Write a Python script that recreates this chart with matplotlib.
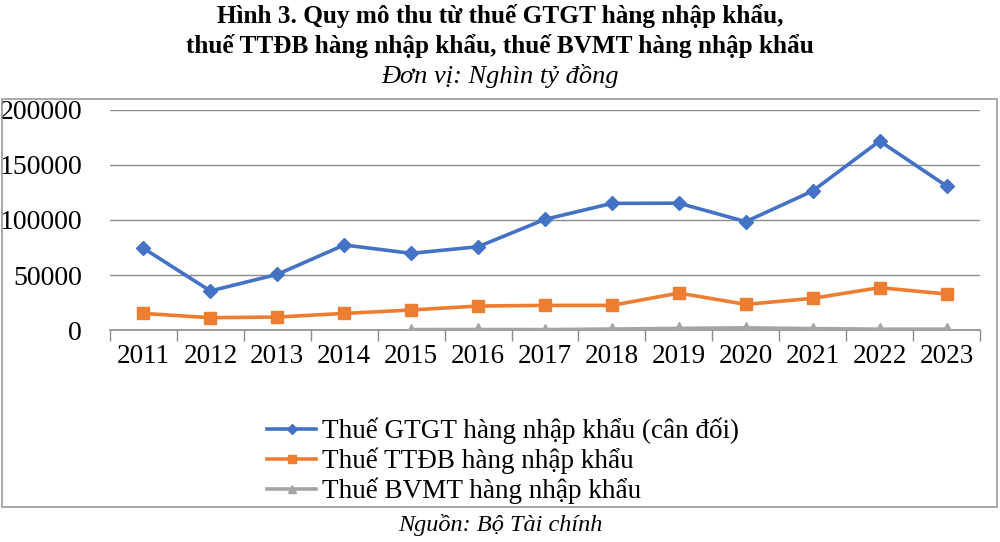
import matplotlib
matplotlib.use("Agg")
import matplotlib.pyplot as plt
from matplotlib.patches import Rectangle
from matplotlib.lines import Line2D

years = ["2011", "2012", "2013", "2014", "2015", "2016", "2017", "2018", "2019", "2020", "2021", "2022", "2023"]
gtgt = [74300, 35500, 50600, 77300, 69700, 75700, 100600, 115100, 115300, 98500, 126400, 171800, 130900]
ttdb = [15100, 11200, 11800, 15100, 18200, 21800, 22400, 22400, 33600, 23300, 28800, 38500, 32700]
bvmt_years = ["2015", "2016", "2017", "2018", "2019", "2020", "2021", "2022", "2023"]
bvmt = [400, 500, 400, 900, 1500, 2000, 1300, 800, 800]

labels = ["Thuế GTGT hàng nhập khẩu (cân đối)", "Thuế TTĐB hàng nhập khẩu", "Thuế BVMT hàng nhập khẩu"]
yticks = [0, 50000, 100000, 150000, 200000]

BLUE = "#4472C4"
ORANGE = "#ED7D31"
GRAY = "#A5A5A5"
SERIF = ["Liberation Serif", "DejaVu Serif"]

plt.rcParams["font.family"] = SERIF

fig = plt.figure(figsize=(10, 5.42), dpi=100)
ax = fig.add_axes([0.11, 0.3911, 0.87, 0.406])

x = list(range(len(years)))
xb = [years.index(y) for y in bvmt_years]

ax.plot(x, gtgt, color=BLUE, lw=2.6, marker="D", ms=7.5, zorder=4)
ax.plot(x, ttdb, color=ORANGE, lw=2.6, marker="s", ms=9, zorder=4)
ax.plot(xb, bvmt, color=GRAY, lw=2.6, marker="^", ms=9, zorder=4)

ax.set_xlim(-0.5, len(years) - 0.5)
ax.set_ylim(0, 200000)
ax.set_yticks(yticks)
ax.set_yticklabels([str(v) for v in yticks], fontsize=20)
ax.grid(axis="y", color="#8c8c8c", lw=1.0)
ax.set_axisbelow(True)

ax.set_xticks(x)
ax.set_xticklabels(years, fontsize=19.5)
ax.set_xticks([i - 0.5 for i in range(len(years) + 1)], minor=True)
ax.tick_params(axis="x", which="major", length=0, pad=10)
ax.tick_params(axis="x", which="minor", length=8, color="#8c8c8c", width=1.0)
ax.tick_params(axis="y", length=0, pad=20)

for s in ["left", "top", "right"]:
    ax.spines[s].set_visible(False)
ax.spines["bottom"].set_color("#8c8c8c")
ax.spines["bottom"].set_linewidth(1.2)

# title
fig.text(0.5, 1 - 16 / 542, "Hình 3. Quy mô thu từ thuế GTGT hàng nhập khẩu,", ha="center", va="center",
         fontsize=18.2, fontweight="bold")
fig.text(0.5, 1 - 46 / 542, "thuế TTĐB hàng nhập khẩu, thuế BVMT hàng nhập khẩu", ha="center", va="center",
         fontsize=18.2, fontweight="bold")
fig.text(0.5, 1 - 76 / 542, "Đơn vị: Nghìn tỷ đồng", ha="center", va="center",
         fontsize=19, fontstyle="italic")

# frame box
fig.patches.append(Rectangle((0.002, 1 - 507 / 542), 0.995, (507 - 99) / 542, transform=fig.transFigure,
                             fill=False, edgecolor="#9a9a9a", lw=1.2))

# legend
handles = [Line2D([], [], color=BLUE, lw=2.6, marker="D", ms=5),
           Line2D([], [], color=ORANGE, lw=2.6, marker="s", ms=6),
           Line2D([], [], color=GRAY, lw=2.6, marker="^", ms=6)]
fig.legend(handles, labels, loc="center", bbox_to_anchor=(0.503, 1 - 461 / 542), frameon=False,
           fontsize=19.5, handlelength=1.8, handletextpad=0.2, labelspacing=0.12, borderpad=0)

fig.text(0.5, 1 - 525 / 542, "Nguồn: Bộ Tài chính", ha="center", va="center", fontsize=17.5, fontstyle="italic")

fig.savefig("out.png", dpi=100)
